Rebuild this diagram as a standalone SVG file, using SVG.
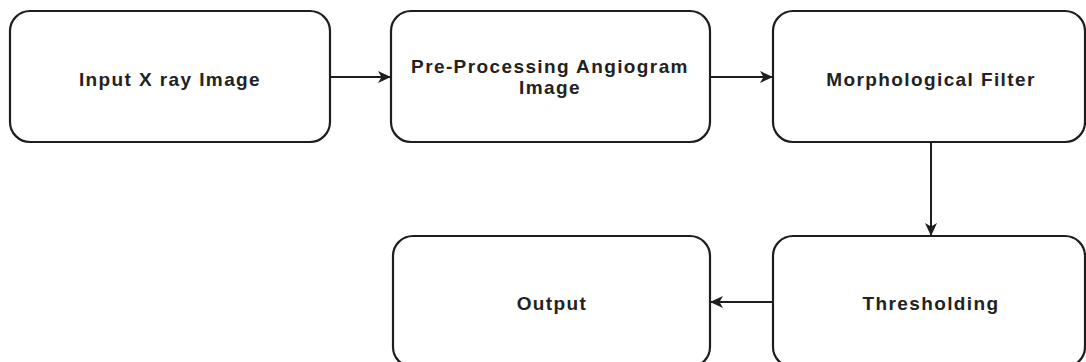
<svg xmlns="http://www.w3.org/2000/svg" width="1086" height="362" viewBox="0 0 1086 362">
  <style>
    .box { fill: #ffffff; stroke: #1e1e1e; stroke-width: 2.2; }
    .lbl { font-family: "Liberation Sans", Arial, sans-serif; font-weight: bold; font-size: 19px; letter-spacing: 1.4px; fill: #222; text-anchor: middle; }
    .edge { stroke: #1e1e1e; stroke-width: 2; fill: none; }
  </style>
  <defs>
    <marker id="arrow" viewBox="0 0 13 12" refX="12" refY="6" markerWidth="13" markerHeight="12" markerUnits="userSpaceOnUse" orient="auto">
      <path d="M0,0 L13,6 L0,12 L3.5,6 Z" fill="#1e1e1e"/>
    </marker>
  </defs>
  <rect width="1086" height="362" fill="#ffffff"/>
  <g id="connectors">
    <line class="edge" x1="330" y1="77" x2="390" y2="77" marker-end="url(#arrow)"/>
    <line class="edge" x1="710" y1="77" x2="772" y2="77" marker-end="url(#arrow)"/>
    <line class="edge" x1="931" y1="143" x2="931" y2="235" marker-end="url(#arrow)"/>
    <line class="edge" x1="773" y1="302" x2="711" y2="302" marker-end="url(#arrow)"/>
  </g>
  <g id="node-input">
    <rect class="box" x="10" y="11" width="320" height="131" rx="20" ry="20"/>
    <text class="lbl" x="170" y="86">Input X ray Image</text>
  </g>
  <g id="node-preprocessing">
    <rect class="box" x="391" y="11" width="319" height="131" rx="20" ry="20"/>
    <text class="lbl" x="550" y="73">Pre-Processing Angiogram</text>
    <text class="lbl" x="550" y="94">Image</text>
  </g>
  <g id="node-morph">
    <rect class="box" x="773" y="11" width="312" height="131" rx="20" ry="20"/>
    <text class="lbl" x="931" y="86">Morphological Filter</text>
  </g>
  <g id="node-threshold">
    <rect class="box" x="773" y="236" width="312" height="131" rx="20" ry="20"/>
    <text class="lbl" x="931" y="310">Thresholding</text>
  </g>
  <g id="node-output">
    <rect class="box" x="393" y="236" width="317" height="131" rx="20" ry="20"/>
    <text class="lbl" x="552" y="310">Output</text>
  </g>
</svg>
